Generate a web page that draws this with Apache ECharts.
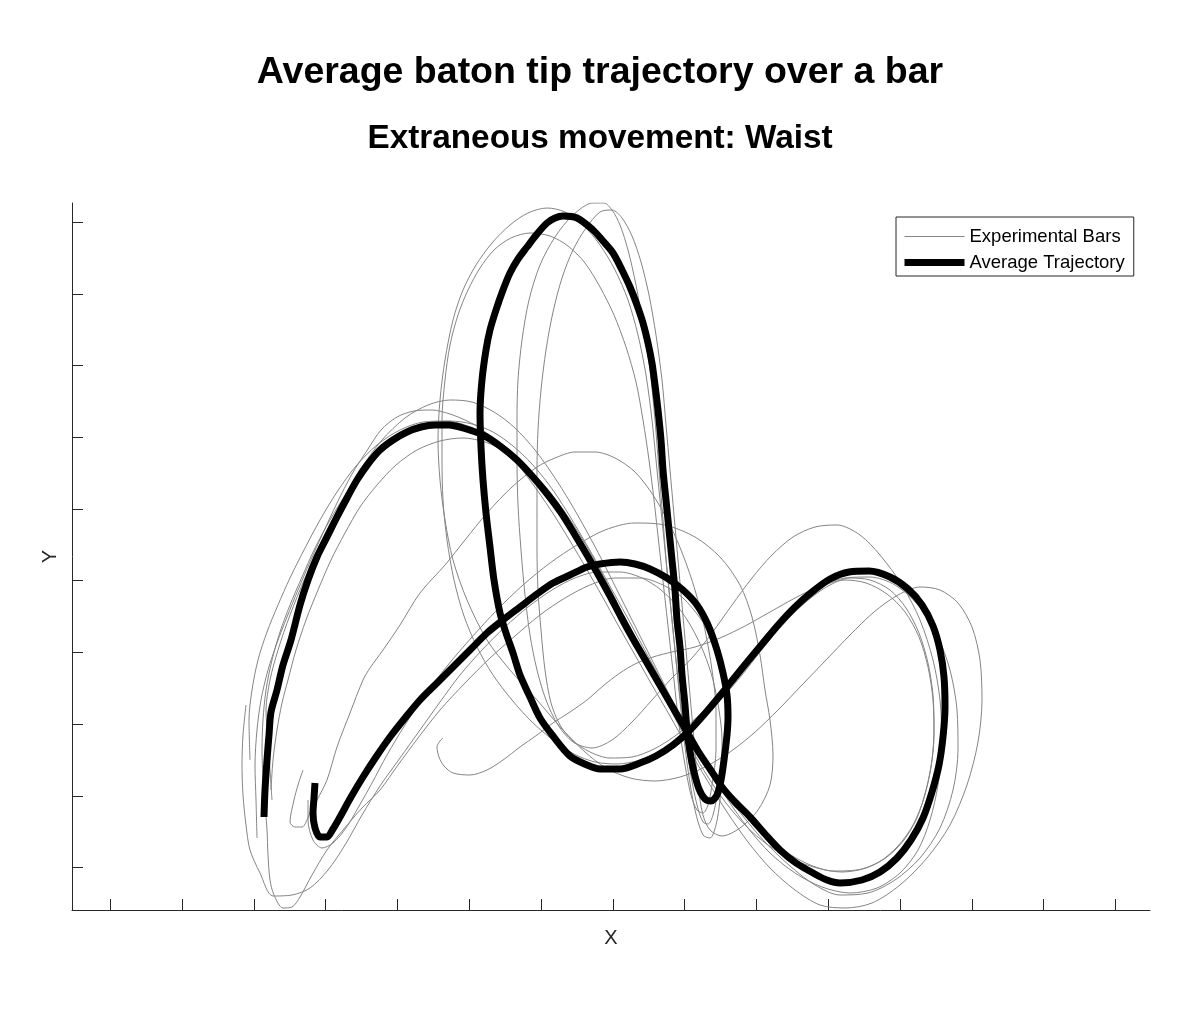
<!DOCTYPE html>
<html>
<head>
<meta charset="utf-8">
<script src="https://cdn.jsdelivr.net/npm/echarts@6/dist/echarts.min.js"></script>
<style>
html,body{margin:0;padding:0;background:#fff;}
#chart{width:1200px;height:1013px;}
</style>
</head>
<body>
<div id="chart"></div>
<script>
// Text
const titleText = 'Average baton tip trajectory over a bar';
const subtitleText = 'Extraneous movement: Waist';
const xName = 'X';
const yName = 'Y';
const legendNames = ['Experimental Bars', 'Average Trajectory'];

// Tick positions (axes have no labels; arbitrary units)
const xTicks = [38,110,182,253,325,397,469,541,612,684,756,828,900,971,1043];
const yTicks = [43,114,186,258,330,401,473,545,616,688];

// Average trajectory [x, y]
const avgTrajectory = [[192,93],[193,120],[195,150],[197,175],[199,198],[205,220],[211,245],[219,270],[228,305],[236,330],[245,353],[255,373],[265,393],[275,412],[285,430],[296,446],[308,460],[321,470],[335,478],[349,483],[363,485],[377,485],[391,482],[411,475],[428,464],[445,450],[461,433],[476,415],[490,396],[503,375],[515,355],[527,334],[538,314],[549,293],[560,273],[571,254],[582,235],[593,216],[604,197],[615,178],[626,159],[638,141],[650,123],[663,108],[678,93],[693,76],[708,60],[724,47],[741,37],[755,30],[768,27],[790,30],[808,38],[825,52],[839,70],[851,92],[860,118],[867,145],[871,173],[873,203],[872,233],[868,260],[861,284],[850,305],[836,321],[818,333],[797,339],[777,338],[758,331],[740,318],[723,303],[707,286],[691,267],[676,249],[663,233],[651,218],[636,200],[618,180],[601,165],[584,154],[568,147],[548,141],[528,141],[515,145],[498,154],[481,174],[468,192],[458,213],[448,235],[441,257],[434,277],[428,297],[422,330],[418,363],[414,397],[411,430],[409,463],[408,497],[410,530],[414,560],[418,580],[424,600],[431,620],[438,637],[446,651],[455,663],[465,676],[475,687],[483,692],[491,694],[505,692],[521,680],[531,669],[541,657],[550,640],[558,623],[565,605],[571,587],[576,567],[580,547],[583,525],[586,500],[589,470],[591,440],[594,410],[597,380],[600,350],[603,320],[605,290],[608,263],[610,235],[613,205],[615,180],[618,158],[622,138],[627,121],[633,111],[639,109],[645,115],[649,130],[652,150],[655,175],[656,193],[655,215],[651,237],[645,260],[636,285],[625,305],[611,320],[595,332],[578,341],[563,346],[548,348],[528,346],[515,343],[498,335],[481,327],[465,316],[448,303],[431,290],[415,277],[398,260],[381,243],[365,227],[348,210],[333,192],[318,173],[304,153],[291,133],[279,113],[268,93],[261,81],[255,73],[248,73],[243,82],[241,97],[242,112],[243,127]];

// Experimental bars [x, y]
const bar1 = [[185,72],[184,110],[183,145],[185,180],[189,210],[196,240],[205,267],[215,293],[226,320],[238,348],[251,377],[265,407],[280,436],[296,461],[309,480],[325,493],[342,499],[360,500],[378,496],[395,489],[408,482],[428,465],[447,444],[465,420],[482,395],[498,369],[514,342],[530,314],[546,285],[563,255],[580,225],[598,194],[616,162],[635,130],[655,98],[676,68],[698,42],[723,20],[748,5],[773,2],[800,7],[828,25],[855,52],[878,85],[895,125],[906,168],[910,210],[908,250],[900,283],[886,307],[868,320],[848,323],[826,315],[802,298],[778,275],[754,250],[730,225],[706,200],[682,177],[658,158],[633,143],[608,133],[583,129],[558,132],[534,142],[513,158],[491,180],[465,210],[438,240],[415,270],[395,310],[381,350],[373,390],[368,430],[366,470],[368,510],[373,550],[381,590],[391,620],[404,645],[420,667],[438,685],[456,697],[475,702],[493,698],[511,685],[528,665],[543,640],[556,610],[566,575],[574,535],[580,490],[585,440],[590,390],[595,340],[600,290],[605,240],[610,190],[616,140],[623,100],[631,75],[638,72],[644,85],[648,110],[650,140],[650,170],[647,200],[641,230],[632,257],[620,282],[606,303],[589,320],[570,332],[548,338],[526,338],[503,332],[480,320],[456,303],[433,283],[410,260],[388,235],[368,208],[348,180],[328,152],[308,124],[290,95],[273,65],[256,40],[238,22],[220,15],[201,14],[188,37],[178,60],[174,85],[171,115],[170,145],[171,175],[174,205]];

const bar2 = [[200,110],[198,140],[196,170],[194,200],[198,230],[206,260],[218,295],[233,332],[250,370],[268,405],[288,440],[310,470],[333,492],[356,505],[378,510],[400,508],[422,498],[443,482],[463,460],[481,435],[498,408],[514,380],[530,350],[545,320],[560,290],[575,260],[590,230],[605,200],[621,170],[638,140],[656,110],[676,82],[698,57],[723,37],[750,23],[778,17],[805,22],[828,37],[846,60],[858,90],[866,125],[870,165],[868,210],[861,250],[848,290],[830,325],[808,355],[788,375],[765,385],[743,383],[721,373],[700,355],[680,332],[660,305],[640,277],[620,252],[600,232],[580,210],[560,188],[540,170],[520,162],[501,168],[486,185],[474,210],[465,240],[458,275],[453,315],[449,360],[446,405],[445,450],[445,490],[446,530],[450,570],[457,610],[468,645],[483,673],[501,695],[521,707],[532,707],[540,700],[548,685],[556,660],[564,625],[571,585],[578,540],[583,490],[587,440],[591,390],[595,340],[600,290],[605,240],[611,190],[618,140],[625,105],[631,88],[636,86],[641,95],[646,120],[650,150],[653,180],[655,210],[652,240],[643,268],[628,292],[611,312],[591,325],[568,332],[543,332],[518,325],[493,312],[468,295],[443,274],[418,252],[393,227],[368,200],[346,172],[326,145],[308,120],[290,102],[271,80],[255,60],[240,35],[228,13],[220,3],[211,2],[202,15],[198,30],[196,55],[195,80],[193,105],[191,130]];

const bar3 = [[199,120],[201,150],[205,180],[210,207],[216,230],[224,260],[234,290],[246,320],[259,350],[273,377],[288,403],[305,425],[324,445],[345,460],[368,469],[391,472],[413,468],[434,458],[454,443],[473,424],[490,402],[506,378],[521,353],[535,327],[549,300],[563,272],[577,244],[591,216],[605,188],[620,160],[636,133],[654,107],[674,84],[696,65],[720,51],[745,42],[770,38],[794,42],[815,53],[832,70],[845,92],[854,120],[860,150],[862,182],[861,215],[856,247],[847,277],[834,302],[818,320],[798,330],[778,332],[758,325],[740,313],[723,298],[706,280],[688,258],[670,235],[651,213],[631,192],[611,174],[590,160],[568,150],[545,146],[523,148],[502,156],[481,170],[460,188],[440,210],[421,235],[405,263],[392,294],[382,330],[375,370],[371,410],[370,450],[370,490],[373,530],[378,565],[386,595],[396,620],[408,642],[422,660],[439,672],[458,677],[478,674],[496,664],[513,647],[528,623],[542,595],[554,563],[564,528],[571,490],[577,450],[582,410],[587,365],[592,320],[597,275],[602,230],[607,185],[613,145],[619,115],[625,100],[631,97],[636,105],[640,125],[644,160],[644,200],[640,240],[633,280],[623,320],[611,355],[598,385],[581,415],[563,438],[543,452],[523,458],[503,458],[483,452],[465,443],[440,423],[415,397],[393,370],[373,345],[348,317],[328,285],[311,260],[298,242],[291,230],[278,197],[265,163],[255,130],[245,110],[238,97],[230,83],[223,83],[218,88],[222,110],[226,125],[231,140]];

const bar4 = [[191,130],[190,160],[191,190],[194,220],[200,250],[208,278],[218,305],[230,333],[243,362],[258,390],[274,416],[292,440],[312,460],[333,475],[355,485],[378,489],[400,486],[421,478],[441,464],[460,446],[478,424],[494,400],[509,375],[524,349],[539,322],[554,295],[569,267],[584,239],[599,211],[615,183],[631,155],[648,128],[667,102],[688,79],[711,60],[736,46],[761,39],[785,40],[807,48],[826,64],[841,85],[852,112],[859,143],[862,175],[861,210],[856,243],[847,273],[833,298],[815,316],[794,327],[773,330],[753,325],[734,314],[716,299],[698,280],[680,258],[662,235],[643,212],[623,191],[603,174],[582,161],[560,153],[538,152],[518,158],[500,170],[488,185],[479,207],[473,240],[469,280],[466,320],[465,360],[465,400],[465,440],[466,480],[469,520],[474,560],[481,598],[490,632],[501,660],[514,682],[528,698],[540,700],[550,692],[560,674],[569,648],[577,615],[584,575],[590,530],[594,485],[598,440],[602,395],[606,350],[610,305],[614,260],[618,215],[622,170],[626,125],[631,95],[638,80],[650,74],[668,82],[686,100],[698,125],[701,155],[698,190],[693,220],[688,255],[680,293],[668,325],[648,353],[623,373],[593,385],[563,387],[533,380],[505,365],[478,347],[451,325],[425,300],[400,273],[376,245],[353,215],[333,185],[315,155],[300,127],[286,102],[274,82],[261,67],[250,62],[241,70],[236,90],[236,110]];

const bar5 = [[178,150],[177,190],[180,220],[186,250],[195,278],[206,305],[218,332],[232,360],[248,390],[265,418],[284,444],[305,465],[328,480],[351,488],[374,489],[396,484],[418,474],[439,459],[458,440],[476,418],[492,394],[508,369],[523,343],[538,316],[553,289],[568,261],[583,233],[599,205],[615,177],[632,150],[650,122],[670,95],[693,68],[718,44],[743,25],[768,15],[796,17],[823,30],[848,52],[868,82],[881,120],[886,160],[885,200],[878,240],[865,275],[846,305],[823,325],[798,333],[773,332],[748,324],[723,312],[698,298],[673,284],[648,272],[623,263],[600,258],[581,253],[563,246],[548,237],[531,224],[515,210],[498,198],[481,187],[465,175],[448,163],[431,150],[415,140],[398,135],[381,137],[372,144],[367,153],[365,163],[368,169],[371,172]];

const experimentalBars = [bar1, bar2, bar3, bar4, bar5];

const FONT = "'Liberation Sans', Arial, Helvetica, sans-serif";
const AXIS_COLOR = '#262626';
const GRAY = '#858585';

const chart = echarts.init(document.getElementById('chart'), null, {renderer: 'canvas'});

const series = experimentalBars.map(function (d) {
  return {
    name: legendNames[0],
    type: 'line',
    data: d,
    symbol: 'none',
    smooth: 0.3,
    silent: true,
    z: 2,
    itemStyle: {color: GRAY},
    lineStyle: {color: GRAY, width: 1}
  };
});
series.push({
  name: legendNames[1],
  type: 'line',
  data: avgTrajectory,
  symbol: 'none',
  smooth: 0.3,
  silent: true,
  z: 3,
  itemStyle: {color: '#000'},
  lineStyle: {color: '#000', width: 7, cap: 'butt', join: 'round'}
});

chart.setOption({
  animation: false,
  backgroundColor: '#fff',
  title: [
    {text: titleText, left: 'center', top: 49,
     textStyle: {fontFamily: FONT, fontSize: 37.5, fontWeight: 'bold', color: '#000'}},
    {text: subtitleText, left: 'center', top: 117,
     textStyle: {fontFamily: FONT, fontSize: 33.3, fontWeight: 'bold', color: '#000'}}
  ],
  legend: {
    data: legendNames,
    orient: 'vertical',
    left: 896,
    top: 217,
    padding: [10, 9, 4, 5],
    itemWidth: 60,
    itemHeight: 12,
    itemGap: 7,
    backgroundColor: '#fff',
    borderColor: AXIS_COLOR,
    borderWidth: 1,
    borderRadius: 0,
    selectedMode: false,
    itemStyle: {opacity: 0, borderWidth: 0},
    lineStyle: {width: 'inherit'},
    textStyle: {fontFamily: FONT, fontSize: 18.5, color: '#000'}
  },
  grid: {left: 72, right: 50, top: 203, bottom: 103, containLabel: false},
  xAxis: {
    type: 'value', min: 0, max: 1078,
    name: xName, nameLocation: 'middle', nameGap: 18,
    nameTextStyle: {fontFamily: FONT, fontSize: 20, color: AXIS_COLOR},
    axisLine: {show: true, onZero: false, lineStyle: {color: AXIS_COLOR, width: 1}},
    axisTick: {show: true, inside: true, length: 11, customValues: xTicks, lineStyle: {color: AXIS_COLOR, width: 1}},
    axisLabel: {show: false},
    splitLine: {show: false}
  },
  yAxis: {
    type: 'value', min: 0, max: 707,
    name: yName, nameLocation: 'middle', nameGap: 12,
    nameTextStyle: {fontFamily: FONT, fontSize: 20, color: AXIS_COLOR},
    axisLine: {show: true, onZero: false, lineStyle: {color: AXIS_COLOR, width: 1}},
    axisTick: {show: true, inside: true, length: 11, customValues: yTicks, lineStyle: {color: AXIS_COLOR, width: 1}},
    axisLabel: {show: false},
    splitLine: {show: false}
  },
  series: series
});
</script>
</body>
</html>
